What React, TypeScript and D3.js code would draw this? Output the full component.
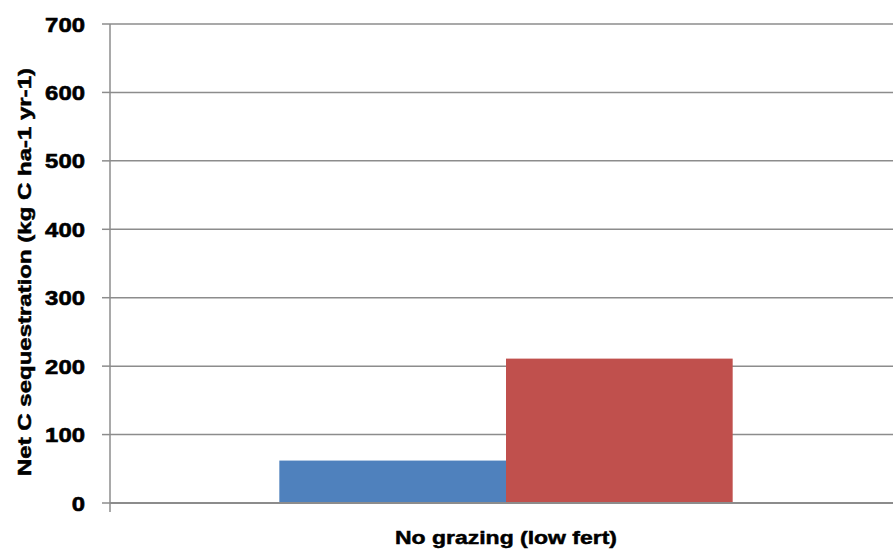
import React from "react";
import * as d3 from "d3";

const categories = ["No grazing (low fert)"];
const seriesNames = ["Series A", "Series B"];
const seriesValues = [[62], [211]];
const yTicks = [0, 100, 200, 300, 400, 500, 600, 700];
const colors = ["#4F81BD", "#C0504D"];

export default function App() {
  const W = 893, H = 553;
  const left = 110, right = 902, top = 24, bottom = 503;
  const y = d3.scaleLinear().domain([0, 700]).range([bottom, top]);
  const x0 = d3.scaleBand().domain(categories).range([left, right]).padding(0);
  const x1 = d3.scaleBand().domain(seriesNames).range([0, x0.bandwidth()]).paddingInner(0).paddingOuter(0.747);
  const font = "'Liberation Sans', Arial, sans-serif";
  return (
    <svg width={W} height={H} style={{ position: "absolute", left: 0, top: 0, background: "#fff" }}>
      {yTicks.map((t) => (
        <g key={t}>
          {t > 0 && <line x1={left} x2={W} y1={y(t)} y2={y(t)} stroke="#8c8c8c" strokeWidth={1.5} />}
          <line x1={102} x2={left} y1={y(t)} y2={y(t)} stroke="#8c8c8c" strokeWidth={1.5} />
          <text x={85} y={y(t)} dy="0.36em" textAnchor="end" fontFamily={font} fontWeight="bold" fontSize={21}
            stroke="#000" strokeWidth={0.6}
            textLength={String(t).length * 13.3} lengthAdjust="spacingAndGlyphs" fill="#000">{t}</text>
        </g>
      ))}
      {categories.map((c, ci) => (
        <g key={c}>
          {seriesNames.map((s, si) => (
            <rect key={s} x={(x0(c) as number) + (x1(s) as number)} width={x1.bandwidth()}
              y={y(seriesValues[si][ci])} height={y(0) - y(seriesValues[si][ci])} fill={colors[si]} />
          ))}
          <text x={(x0(c) as number) + x0.bandwidth() / 2} y={544} textAnchor="middle" fontFamily={font}
            fontWeight="bold" fontSize={19} stroke="#000" strokeWidth={0.5}
            textLength={222} lengthAdjust="spacingAndGlyphs" fill="#000">{c}</text>
        </g>
      ))}
      <line x1={left} x2={left} y1={top} y2={bottom} stroke="#8c8c8c" strokeWidth={1.5} />
      <line x1={left} x2={W} y1={bottom} y2={bottom} stroke="#8c8c8c" strokeWidth={2} />
      <line x1={left} x2={left} y1={bottom} y2={512} stroke="#8c8c8c" strokeWidth={1.5} />
      <text transform={`translate(31,272) rotate(-90)`} textAnchor="middle" fontFamily={font} fontWeight="bold"
        fontSize={18} stroke="#000" strokeWidth={0.5}
        textLength={408} lengthAdjust="spacingAndGlyphs" fill="#000">
        Net C sequestration (kg C ha-1 yr-1)
      </text>
    </svg>
  );
}
